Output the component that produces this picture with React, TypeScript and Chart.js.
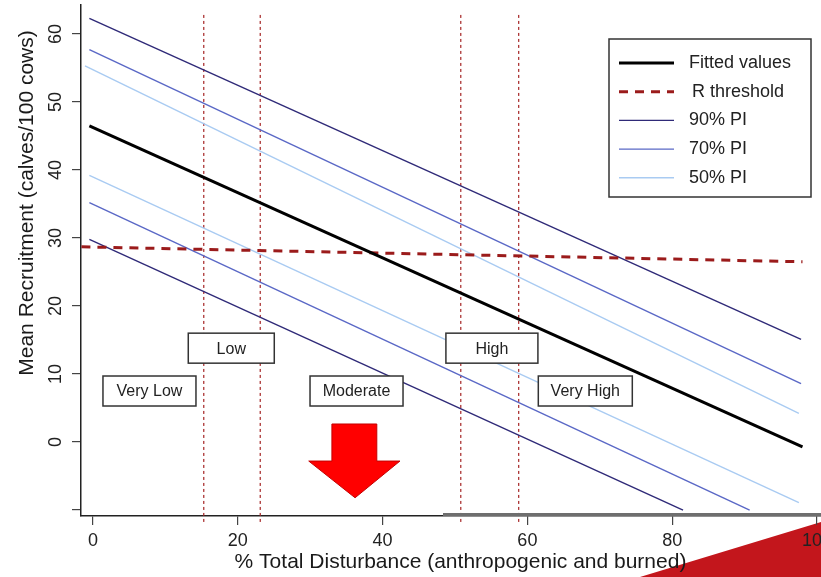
import React, { useEffect, useRef } from 'react';
import { Chart, registerables } from 'chart.js';

Chart.register(...registerables);

const FONT = "'Liberation Sans', Arial, Helvetica, sans-serif";

// ---- axis ticks ----
const xTicks = [0, 20, 40, 60, 80, 100];
const yTicks = [-10, 0, 10, 20, 30, 40, 50, 60];

// ---- series (start / end of each straight line) ----
const fittedX = [-0.5, 98];
const fittedY = [46.5, -0.7];
const thresholdX = [-1.6, 98];
const thresholdY = [28.7, 26.5];
const pi90UpperX = [-0.5, 97.8];
const pi90UpperY = [62.3, 15.1];
const pi90LowerX = [-0.5, 81.5];
const pi90LowerY = [29.8, -10];
const pi70UpperX = [-0.5, 97.8];
const pi70UpperY = [57.7, 8.6];
const pi70LowerX = [-0.5, 90.7];
const pi70LowerY = [35.2, -10];
const pi50UpperX = [-1.1, 97.5];
const pi50UpperY = [55.3, 4.2];
const pi50LowerX = [-0.5, 97.5];
const pi50LowerY = [39.2, -8.9];

// ---- disturbance class cut-offs ----
const cutoffs = [15.3, 23.1, 50.8, 58.8];
const cutoffTop = 62.8;
const cutoffBottom = -12.2;

// ---- class labels (anchored in data coordinates) ----
const classLabels = ['Very Low', 'Low', 'Moderate', 'High', 'Very High'];
const classLabelX = [7.8, 19.1, 36.4, 55.1, 68.0];
const classLabelY = [7.5, 13.8, 7.5, 13.8, 7.5];
const classBoxW = [93, 86, 93, 92, 94];

// ---- red arrow (data coordinates) ----
const arrowXs = [33.0, 39.2, 39.2, 42.4, 36.2, 29.8, 33.0];
const arrowYs = [2.65, 2.65, -2.8, -2.8, -8.2, -2.8, -2.8];

const C_FIT = '#000000';
const C_THR = '#9b1b1b';
const C_90 = '#2f2a78';
const C_70 = '#5a68c6';
const C_50 = '#a9cbf2';
const C_CUT = '#a52424';

const pts = (xs: number[], ys: number[]) => xs.map((x, i) => ({ x, y: ys[i] }));

const decorPlugin = {
  id: 'decor',
  beforeDraw(chart: any) {
    const ctx = chart.ctx;
    ctx.save();
    ctx.fillStyle = '#ffffff';
    ctx.fillRect(0, 0, chart.width, chart.height);
    // red wedge at the bottom right of the slide
    ctx.fillStyle = '#c3161c';
    ctx.beginPath();
    ctx.moveTo(640, chart.height);
    ctx.lineTo(821, 522);
    ctx.lineTo(chart.width, 516);
    ctx.lineTo(chart.width, chart.height);
    ctx.closePath();
    ctx.fill();
    ctx.restore();
  },
  afterDatasetsDraw(chart: any) {
    const ctx = chart.ctx;
    const xs = chart.scales.x;
    const ys = chart.scales.y;
    const ca = chart.chartArea;
    ctx.save();

    // grey overlay of the pasted right half axis
    ctx.strokeStyle = '#6e6e6e';
    ctx.lineWidth = 3;
    ctx.beginPath();
    ctx.moveTo(443, ca.bottom - 1.5);
    ctx.lineTo(chart.width, ca.bottom - 1.5);
    ctx.stroke();

    // class label boxes
    ctx.font = `16px ${FONT}`;
    ctx.textAlign = 'center';
    ctx.textBaseline = 'middle';
    classLabels.forEach((lab, i) => {
      const cx = xs.getPixelForValue(classLabelX[i]);
      const cy = ys.getPixelForValue(classLabelY[i]);
      const w = classBoxW[i];
      const h = 30;
      ctx.fillStyle = '#ffffff';
      ctx.fillRect(cx - w / 2, cy - h / 2, w, h);
      ctx.strokeStyle = '#333333';
      ctx.lineWidth = 1.5;
      ctx.strokeRect(cx - w / 2, cy - h / 2, w, h);
      ctx.fillStyle = '#222222';
      ctx.fillText(lab, cx, cy + 1);
    });

    // red arrow
    ctx.beginPath();
    arrowXs.forEach((x, i) => {
      const px = xs.getPixelForValue(x);
      const py = ys.getPixelForValue(arrowYs[i]);
      if (i === 0) ctx.moveTo(px, py);
      else ctx.lineTo(px, py);
    });
    ctx.closePath();
    ctx.fillStyle = '#ff0000';
    ctx.fill();
    ctx.strokeStyle = '#c40000';
    ctx.lineWidth = 1;
    ctx.stroke();

    // legend
    const lx = 609, ly = 39, lw = 202, lh = 158;
    ctx.fillStyle = '#ffffff';
    ctx.fillRect(lx, ly, lw, lh);
    ctx.strokeStyle = '#333333';
    ctx.lineWidth = 1.5;
    ctx.strokeRect(lx, ly, lw, lh);
    const items = chart.data.datasets.filter((d: any) => d.inLegend);
    ctx.font = `18px ${FONT}`;
    ctx.textAlign = 'left';
    ctx.textBaseline = 'middle';
    items.forEach((d: any, i: number) => {
      const y = 63 + i * 28.7;
      ctx.save();
      ctx.strokeStyle = d.borderColor;
      ctx.lineWidth = d.borderWidth;
      ctx.setLineDash(d.borderDash || []);
      ctx.beginPath();
      ctx.moveTo(619, y);
      ctx.lineTo(674, y);
      ctx.stroke();
      ctx.restore();
      ctx.fillStyle = '#222222';
      ctx.fillText(d.label, d.label === 'R threshold' ? 692 : 689, y);
    });

    // y axis title
    ctx.save();
    ctx.translate(27, 203);
    ctx.rotate(-Math.PI / 2);
    ctx.font = `21px ${FONT}`;
    ctx.fillStyle = '#1a1a1a';
    ctx.textAlign = 'center';
    ctx.textBaseline = 'middle';
    ctx.fillText('Mean Recruitment (calves/100 cows)', 0, 0);
    ctx.restore();

    ctx.restore();
  },
};

const lineDs = (label: string, xs: number[], ys: number[], color: string, width: number, inLegend: boolean, extra: any = {}) => ({
  label,
  data: pts(xs, ys),
  borderColor: color,
  backgroundColor: color,
  borderWidth: width,
  pointRadius: 0,
  pointHoverRadius: 0,
  fill: false,
  tension: 0,
  inLegend,
  ...extra,
});

export default function App() {
  const ref = useRef<HTMLCanvasElement>(null);

  useEffect(() => {
    if (!ref.current) return;
    const datasets: any[] = [
      lineDs('Fitted values', fittedX, fittedY, C_FIT, 3, true),
      lineDs('R threshold', thresholdX, thresholdY, C_THR, 3, true, { borderDash: [9, 7] }),
      lineDs('90% PI', pi90UpperX, pi90UpperY, C_90, 1.4, true),
      lineDs('70% PI', pi70UpperX, pi70UpperY, C_70, 1.4, true),
      lineDs('50% PI', pi50UpperX, pi50UpperY, C_50, 1.4, true),
      lineDs('90% PI lower', pi90LowerX, pi90LowerY, C_90, 1.4, false),
      lineDs('70% PI lower', pi70LowerX, pi70LowerY, C_70, 1.4, false),
      lineDs('50% PI lower', pi50LowerX, pi50LowerY, C_50, 1.4, false),
      ...cutoffs.map((c, i) =>
        lineDs('cutoff ' + (i + 1), [c, c], [cutoffTop, cutoffBottom], C_CUT, 1.2, false, {
          borderDash: [3, 3],
          clip: false,
        })
      ),
    ];

    const chart = new Chart(ref.current, {
      type: 'line',
      data: { datasets },
      plugins: [decorPlugin],
      options: {
        animation: false,
        responsive: true,
        maintainAspectRatio: false,
        layout: { padding: { left: 0, top: 5, right: 0, bottom: 0 } },
        plugins: { legend: { display: false }, tooltip: { enabled: false } },
        scales: {
          x: {
            type: 'linear',
            min: -1.657,
            max: 103.18,
            afterBuildTicks: (s: any) => {
              s.ticks = xTicks.map((v) => ({ value: v }));
            },
            afterFit: (s: any) => {
              s.height = 61;
              s.paddingLeft = 0;
              s.paddingRight = 0;
            },
            ticks: {
              font: { family: FONT, size: 18 },
              color: '#222222',
              padding: 5,
              maxRotation: 0,
              minRotation: 0,
            },
            grid: {
              drawOnChartArea: false,
              drawTicks: true,
              tickLength: 9,
              color: '#444444',
              lineWidth: 1.2,
            },
            border: { display: true, color: '#222222', width: 1.5 },
            title: {
              display: true,
              text: '% Total Disturbance (anthropogenic and burned)',
              font: { family: FONT, size: 21 },
              color: '#1a1a1a',
              padding: { top: 0, bottom: 2 },
            },
          },
          y: {
            type: 'linear',
            min: -10.88,
            max: 64.26,
            afterBuildTicks: (s: any) => {
              s.ticks = yTicks.map((v) => ({ value: v }));
            },
            afterFit: (s: any) => {
              s.width = 81;
              s.paddingTop = 0;
              s.paddingBottom = 0;
            },
            ticks: {
              font: { family: FONT, size: 18 },
              color: '#222222',
              padding: 6,
              minRotation: 90,
              maxRotation: 90,
              crossAlign: 'center',
              callback: (v: any) => (v === -10 ? '' : String(v)),
            },
            grid: {
              drawOnChartArea: false,
              drawTicks: true,
              tickLength: 9,
              color: '#444444',
              lineWidth: 1.2,
            },
            border: { display: true, color: '#222222', width: 1.5 },
          },
        },
      } as any,
    });
    return () => chart.destroy();
  }, []);

  return (
    <div style={{ position: 'fixed', left: 0, top: 0, width: 840, height: 577, background: '#fff' }}>
      <canvas ref={ref} />
    </div>
  );
}
